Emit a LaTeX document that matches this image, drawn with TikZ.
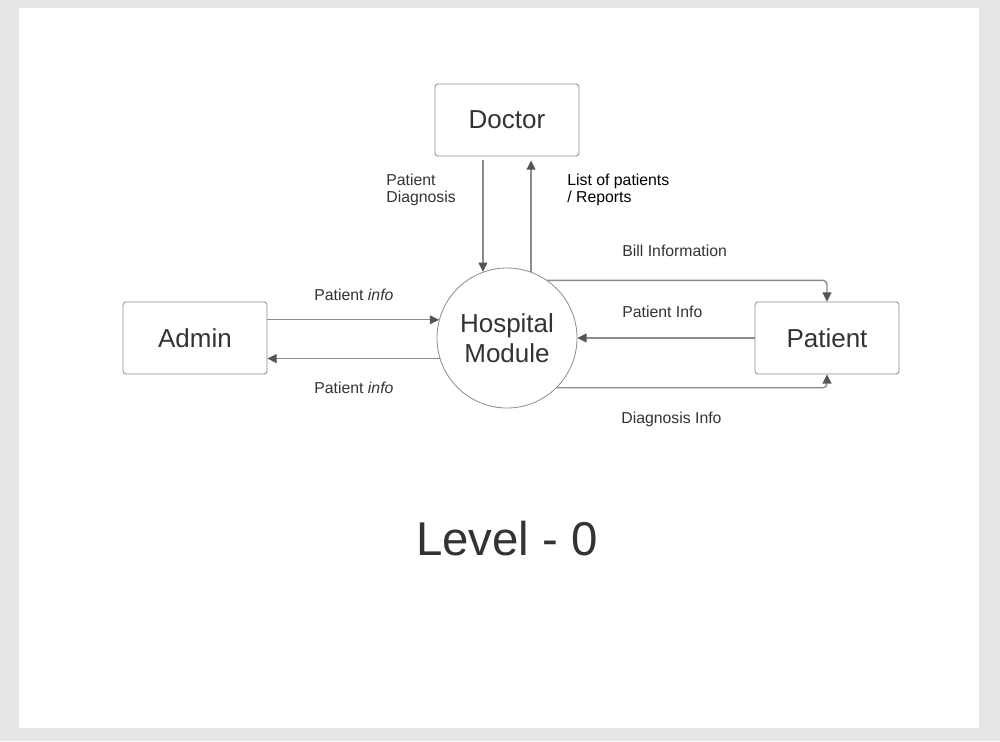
\documentclass[tikz,border=0pt]{standalone}
\usepackage{fontspec}
\setmainfont{Liberation Sans}
\usepackage{xcolor}
\usetikzlibrary{arrows.meta,positioning}
\definecolor{pagegray}{HTML}{E5E6E8}
\definecolor{linegray}{HTML}{8C8C8C}
\definecolor{tipgray}{HTML}{555555}
\definecolor{textgray}{HTML}{333333}

\begin{document}
\begin{tikzpicture}[x=0.5pt, y=-0.5pt,
        every node/.style={text=textgray},
        entity/.style={draw=linegray, rounded corners=1.5pt, minimum width=72pt, minimum height=36pt, font=\fontsize{13}{15}\selectfont},
        process/.style={draw=linegray, circle, minimum size=70pt, inner sep=0pt, align=center, font=\fontsize{13}{15}\selectfont},
        flow/.style={draw=linegray, line width=0.7pt, rounded corners=2pt, -{Triangle[length=4.6pt,width=4.4pt,color=tipgray]}},
        lbl/.style={anchor=west, inner sep=0pt, align=left, font=\fontsize{7.9}{8.6}\selectfont}]
        \fill[pagegray] (0,0) rectangle (1000,741);
        \fill[white] (19,8) rectangle (979,728);

        \node[process] (hm) at (507,338) {Hospital\\Module};
        \node[entity] (doctor) at (507,120) {Doctor};
        \node[entity] (admin) at (195,338) {Admin};
        \node[entity] (patient) at (827,338) {Patient};

        \draw[flow] ([yshift=-2pt]doctor.south -| hm.110) -- (hm.110);
        \draw[flow] (hm.70) -- ([yshift=-2pt]doctor.south -| hm.70);
        \draw[flow] (admin.east |- hm.165) -- (hm.165);
        \draw[flow] (hm.197) -- (admin.east |- hm.197);
        \draw[flow] (hm.55) -- (hm.55 -| patient.north) -- (patient.north);
        \draw[flow] (patient.west) -- (hm.east);
        \draw[flow] (hm.-45) -- (hm.-45 -| patient.south) -- (patient.south);

        \node[lbl] (ldiag) at (386,190) {Patient\\Diagnosis};
        \node[lbl, text=black] (llist) at (567,190) {List of patients\\/ Reports};
        \node[lbl] (lbill) at (622,251) {Bill Information};
        \node[lbl] (lpinfo) at (622,312) {Patient Info};
        \node[lbl] (ldinfo) at (621,419) {Diagnosis Info};
        \node[lbl] (lin) at (314,295) {Patient \textit{info}};
        \node[lbl] (lout) at (314,388) {Patient \textit{info}};

        \node[font=\fontsize{23.7}{26}\selectfont] (level) at (507,539) {Level - 0};
    \end{tikzpicture}
\end{document}
